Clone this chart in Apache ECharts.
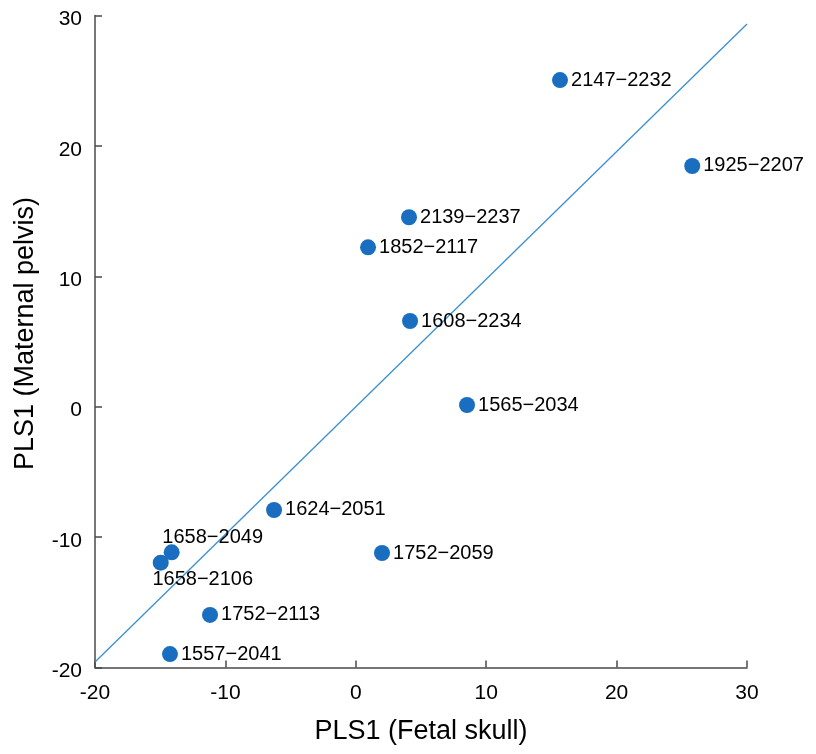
<!DOCTYPE html>
<html>
<head>
<meta charset="utf-8">
<script src="https://cdn.jsdelivr.net/npm/echarts@6/dist/echarts.min.js"></script>
<style>
  html, body { margin: 0; padding: 0; background: #fff; }
  #chart { width: 816px; height: 754px; }
</style>
</head>
<body>
<div id="chart"></div>
<script>
// Sample IDs and PLS1 scores (fetal skull vs maternal pelvis)
const sampleIds = ['2147\u22122232', '1925\u22122207', '2139\u22122237', '1852\u22122117', '1608\u22122234',
  '1565\u22122034', '1624\u22122051', '1752\u22122059', '1658\u22122049', '1658\u22122106',
  '1752\u22122113', '1557\u22122041'];
const fetalSkull = [15.66, 25.8, 4.08, 0.94, 4.16, 8.53, -6.27, 2.01, -14.12, -14.96, -11.18, -14.25];
const maternalPelvis = [25.05, 18.46, 14.53, 12.22, 6.57, 0.13, -7.92, -11.22, -11.17, -11.96, -15.97, -18.97];

// Fitted line endpoints
const fitX = [-20, 30];
const fitY = [-19.58, 29.35];

const axisTicks = [-20, -10, 0, 10, 20, 30];

const pointColor = '#1a6ebf';
const font = 'Liberation Sans, Arial, sans-serif';

const points = sampleIds.map((id, i) => {
  const item = { value: [fetalSkull[i], maternalPelvis[i]], name: id };
  if (id === '1658\u22122049') {
    item.label = { position: 'top', offset: [41, 6] };
  } else if (id === '1658\u22122106') {
    item.label = { position: 'bottom', offset: [42, -4] };
  }
  return item;
});

const axisCommon = {
  type: 'value',
  min: axisTicks[0],
  max: axisTicks[axisTicks.length - 1],
  interval: 10,
  splitLine: { show: false },
  axisLine: { show: true, onZero: false, lineStyle: { color: '#4a4a4a', width: 1.5 } },
  axisTick: { show: true, inside: true, length: 7, lineStyle: { color: '#4a4a4a', width: 1.5 } },
  axisLabel: { color: '#000', fontSize: 21, fontFamily: font },
  nameLocation: 'middle',
  nameTextStyle: { color: '#000', fontFamily: font, fontSize: 27 }
};

const chart = echarts.init(document.getElementById('chart'));
chart.setOption({
  animation: false,
  backgroundColor: '#fff',
  grid: { left: 95, right: 69, top: 15.5, bottom: 86.5 },
  xAxis: Object.assign({}, axisCommon, {
    name: 'PLS1 (Fetal skull)',
    nameGap: 51,
    axisLabel: Object.assign({}, axisCommon.axisLabel, { margin: 15 })
  }),
  yAxis: Object.assign({}, axisCommon, {
    name: 'PLS1 (Maternal pelvis)',
    nameGap: 56,
    nameTextStyle: Object.assign({}, axisCommon.nameTextStyle, { padding: [0, 0, 0, 16] }),
    axisLabel: Object.assign({}, axisCommon.axisLabel, {
      margin: 13,
      formatter: v => '{t|' + v + '}',
      rich: { t: { color: '#000', fontSize: 21, fontFamily: font, padding: [8, 0, 0, 0] } }
    })
  }),
  series: [
    {
      type: 'line',
      data: fitX.map((x, i) => [x, fitY[i]]),
      symbol: 'none',
      lineStyle: { color: '#3a8fd3', width: 1.3 },
      z: 1
    },
    {
      type: 'scatter',
      data: points,
      symbolSize: 16,
      itemStyle: { color: pointColor, opacity: 1 },
      label: {
        show: true,
        position: 'right',
        distance: 3,
        formatter: p => p.name,
        color: '#000',
        fontSize: 20,
        fontFamily: font
      },
      z: 2
    }
  ]
});
</script>
</body>
</html>
